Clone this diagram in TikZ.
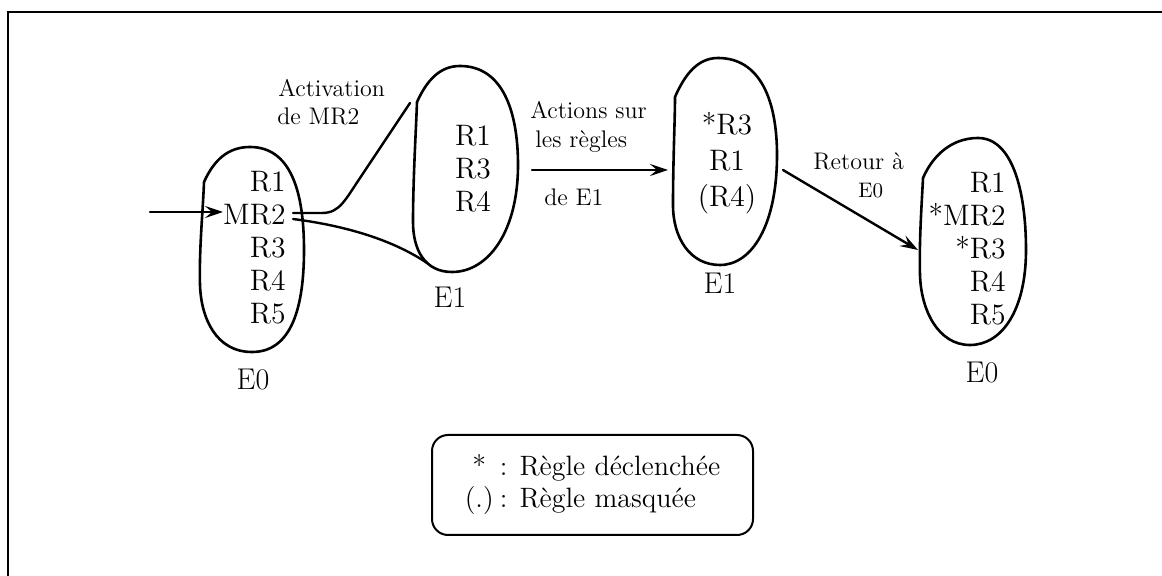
\documentclass[tikz,border=0pt]{standalone}
\usepackage{fontspec}
\usetikzlibrary{arrows.meta}
\begin{document}
\begin{tikzpicture}[x=0.5pt,y=-0.5pt,
  blob/.style={line width=1.3pt, line join=round},
  conn/.style={line width=1.2pt, line cap=round},
  arr/.style={conn, -{Stealth[length=9pt,width=6pt,inset=3.5pt]}},
  st/.style={inner sep=0pt, font=\fontsize{14.8}{16.5}\selectfont},
  lab/.style={inner sep=0pt, font=\fontsize{15}{17}\selectfont},
  small/.style={inner sep=0pt, font=\fontsize{12}{14}\selectfont},
  tiny/.style={inner sep=0pt, font=\fontsize{10.5}{12}\selectfont},
  legend/.style={draw, line width=1pt, rounded corners=8pt, inner sep=0pt,
    minimum width=160.5pt, minimum height=50pt, font=\fontsize{14}{16}\selectfont},
  frame/.style={line width=0.7pt}]
\useasboundingbox (0,0) rectangle (1162,576);
% frame
\draw[frame] (8,576) -- (8,12) -- (1162,12);

% ---- E0 (left)
\draw[blob] (204,182) .. controls (214,160) and (228,147) .. (250,147)
  .. controls (290,147) and (304,190) .. (304,250)
  .. controls (304,315) and (288,352) .. (252,352)
  .. controls (216,352) and (201,318) .. (200,285)
  .. controls (199,250) and (203,210) .. (204,182) -- cycle;
\node[st, align=right, anchor=north east] (s0) at (286,171) {R1\\MR2\\R3\\R4\\R5};
\node[lab] (e0a) at (253,380) {E0};

% ---- E1 (first)
\draw[blob] (417,102) .. controls (427,80) and (440,66) .. (460,66)
  .. controls (502,66) and (518,110) .. (518,165)
  .. controls (518,232) and (488,272) .. (452,272)
  .. controls (425,272) and (413,250) .. (413,222)
  .. controls (413,180) and (416,130) .. (417,102) -- cycle;
\node[st, align=center, anchor=north] (s1) at (473,125) {R1\\R3\\R4};
\node[lab] (e1a) at (450,297) {E1};

% ---- E1 (second)
\draw[blob] (675,97) .. controls (685,74) and (698,58) .. (718,58)
  .. controls (760,58) and (777,100) .. (777,155)
  .. controls (777,225) and (752,265) .. (720,265)
  .. controls (690,265) and (673,238) .. (673,205)
  .. controls (673,160) and (675,120) .. (675,97) -- cycle;
\node[st, align=center, anchor=north, font=\fontsize{14.8}{18}\selectfont] (s2) at (727,112) {*R3\\R1\\(R4)};
\node[lab] (e1b) at (720,283) {E1};

% ---- E0 (right)
\draw[blob] (923,178) .. controls (933,155) and (952,138) .. (978,138)
  .. controls (1012,138) and (1026,190) .. (1026,250)
  .. controls (1026,310) and (1002,345) .. (970,345)
  .. controls (938,345) and (921,310) .. (920,275)
  .. controls (919,240) and (922,200) .. (923,178) -- cycle;
\node[st, align=right, anchor=north east] (s3) at (1006,172) {R1\\*MR2\\*R3\\R4\\R5};
\node[lab] (e0b) at (982,373) {E0};

% ---- connector end points
\coordinate (inS) at (150,212);
\coordinate (inE) at (223,212);
\coordinate (uS) at (293,213);
\coordinate (uE) at (410,103);
\coordinate (lS) at (293,219);
\coordinate (lE) at (427,263);
\coordinate (aS) at (532,170);
\coordinate (aE) at (668,170);
\coordinate (rS) at (783,170);
\coordinate (rE) at (918,250);

% ---- connectors
\draw[arr] (inS) -- (inE);
\draw[conn] (uS) -- (322,213) .. controls (340,213) and (345,200) .. (362,175) -- (uE);
\draw[conn] (lS) .. controls (340,225) and (390,238) .. (lE);
\draw[arr] (aS) -- (aE);
\draw[arr] (rS) -- (rE);

% ---- labels
\node[small, anchor=base west] (act1) at (278,97) {Activation};
\node[small, anchor=base west] (act2) at (277,125) {de MR2};
\node[small, anchor=base west] (acs1) at (530,119) {Actions sur};
\node[small, anchor=base west] (acs2) at (535,148) {les règles};
\node[small, anchor=base west] (acs3) at (544,206) {de E1};
\node[small, anchor=base west] (ret1) at (813,170) {Retour à};
\node[tiny, anchor=base west] (ret2) at (858,198) {E0};

% ---- legend
\node[legend] (leg) at (592.5,485)
  {\begin{tabular}{@{}c@{\hspace{3pt}}l@{}}*&: Règle déclenchée\\(.)&: Règle masquée\end{tabular}};
\end{tikzpicture}
\end{document}
